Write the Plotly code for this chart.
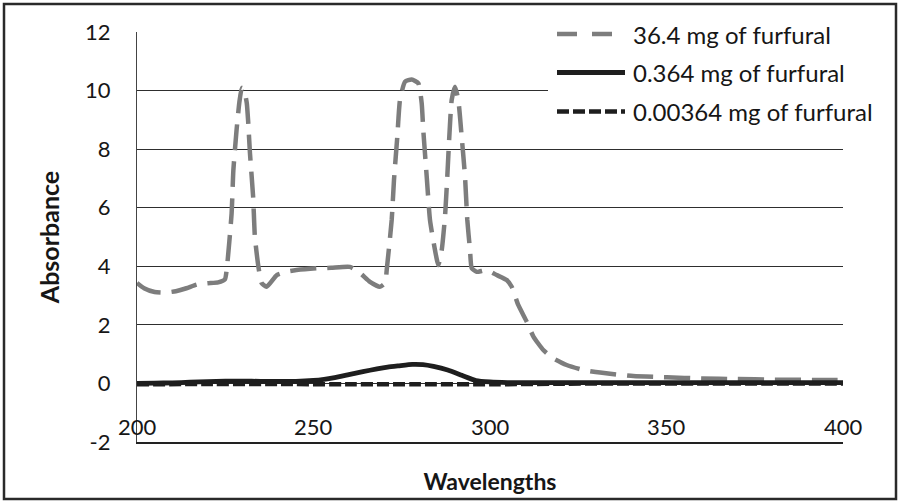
import plotly.graph_objects as go

# Absorbance spectra of furfural at three amounts
series_names = ["36.4 mg of furfural", "0.364 mg of furfural", "0.00364 mg of furfural"]

wl_36 = [200, 202, 205, 208, 211, 214, 217, 220, 223, 224.9, 225.4, 226.8, 227.3, 228.2, 229.0,
         229.7, 230.4, 231.1, 231.5, 232.0, 232.9, 233.4, 234.4, 235.3, 236.7, 239.6, 242.5, 245.2,
         250.9, 255, 260.3, 263.2, 266.0, 268.8, 270.3, 270.74, 272.15, 272.8, 273.74, 274.5,
         275.92, 277.82, 279.69, 280.65, 281.1, 282.07, 283.0, 284.42, 285.36, 286.32, 287.25,
         287.9, 288.47, 289.15, 290.09, 291.02, 291.98, 292.92, 293.57, 294.34, 294.82, 296.23,
         299.07, 301.9, 304.73, 306.15, 308.0, 310.4, 312.3, 315.1, 317.9, 321.7, 326.4, 331.2,
         340.6, 350.1, 360, 370, 380, 390, 400]
abs_36 = [3.43, 3.25, 3.12, 3.10, 3.15, 3.25, 3.38, 3.42, 3.45, 3.55, 3.87, 5.8, 7.28, 8.65, 9.6,
          10.09, 10.0, 9.57, 8.93, 7.86, 6.37, 5.0, 3.98, 3.43, 3.3, 3.7, 3.82, 3.87,
          3.93, 3.95, 3.98, 3.77, 3.47, 3.3, 3.43, 3.87, 5.58, 6.94, 8.42, 9.68,
          10.3, 10.38, 10.25, 9.57, 8.65, 7.06, 5.58, 4.55, 4.04, 4.55, 5.69,
          7.06, 8.42, 9.68, 10.13, 9.68, 8.42, 7.06, 5.58, 4.55, 3.94, 3.81,
          3.87, 3.7, 3.53, 3.3, 2.68, 2.11, 1.6, 1.14, 0.86, 0.63, 0.46, 0.37,
          0.25, 0.21, 0.17, 0.15, 0.13, 0.12, 0.12]

wl_0364 = [200, 205, 210, 215, 220, 225, 230, 235, 240, 245, 250, 253, 256, 260, 264, 268, 271,
           274, 278, 281, 284, 288, 292, 296, 300, 305, 310, 320, 340, 360, 380, 400]
abs_0364 = [0.0, 0.01, 0.02, 0.04, 0.06, 0.08, 0.08, 0.07, 0.07, 0.07, 0.1, 0.14, 0.2, 0.3, 0.4,
            0.5, 0.56, 0.6, 0.65, 0.64, 0.58, 0.46, 0.28, 0.1, 0.05, 0.03, 0.03, 0.03, 0.03, 0.03,
            0.03, 0.03]

wl_000364 = [200, 220, 240, 260, 280, 300, 320, 340, 360, 380, 400]
abs_000364 = [-0.03, -0.02, -0.02, -0.03, -0.03, -0.03, -0.01, 0.0, 0.0, 0.0, 0.0]

x_ticks = [200, 250, 300, 350, 400]
y_ticks = [-2, 0, 2, 4, 6, 8, 10, 12]
y_ticktext = ["-2", "0", "2", "4", "6", "8", "10", "12"]

assert len(wl_36) == len(abs_36)
assert len(wl_0364) == len(abs_0364)

FONT = "Lato"
INK = "#161616"
GREY = "#7d7d7d"

styles = [
    dict(color=GREY, width=4.5, dash="26px,11px"),
    dict(color="#1e1e1e", width=4.8, dash="solid"),
    dict(color="#1e1e1e", width=4.5, dash="12px,4px"),
]

fig = go.Figure()
for name, xs, ys, st in zip(series_names,
                            [wl_36, wl_0364, wl_000364],
                            [abs_36, abs_0364, abs_000364],
                            styles):
    fig.add_trace(go.Scatter(x=xs, y=ys, mode="lines", name=name,
                             line=dict(shape="spline", smoothing=0.5, **st),
                             showlegend=False))

# plot-area geometry in pixels, used to place the legend box
L, R, T, B = 137, 843, 32, 442
W, H = 899, 502

def px_x(p):
    return (p - L) / (R - L)

def px_y(p):
    return (B - p) / (B - T)

shapes = []
# outer chart border
shapes.append(dict(type="rect", xref="paper", yref="paper",
                   x0=px_x(4), x1=px_x(896), y0=px_y(499), y1=px_y(4),
                   line=dict(color="#2a2a2a", width=2.5), layer="below"))
# white legend box over the top gridlines
shapes.append(dict(type="rect", xref="paper", yref="paper",
                   x0=px_x(548), x1=px_x(890), y0=px_y(132), y1=px_y(14),
                   fillcolor="white", line=dict(width=0), layer="above"))

annotations = []
legend_rows = [34, 72.5, 111.5]
for name, st, ry in zip(series_names, styles, legend_rows):
    shapes.append(dict(type="line", xref="paper", yref="paper",
                       x0=px_x(557), x1=px_x(625), y0=px_y(ry), y1=px_y(ry),
                       line=dict(color=st["color"], width=st["width"],
                                 dash="20px,15px" if st["dash"] == "26px,11px" else st["dash"]),
                       layer="above"))
    annotations.append(dict(xref="paper", yref="paper", x=px_x(631), y=px_y(ry),
                            xanchor="left", yanchor="middle", showarrow=False,
                            text=name, font=dict(family=FONT, size=24, color=INK)))

# wavelength labels sit just above the axis line
for v in x_ticks:
    annotations.append(dict(xref="x", yref="y", x=v, y=-1.47, xanchor="center",
                            yanchor="middle", showarrow=False, text=str(v),
                            font=dict(family=FONT, size=22, color=INK)))

fig.update_layout(
    width=W, height=H,
    margin=dict(l=L, r=W - R, t=T, b=H - B),
    paper_bgcolor="white", plot_bgcolor="white",
    font=dict(family=FONT, color=INK),
    shapes=shapes, annotations=annotations,
    xaxis=dict(range=[200, 400], showticklabels=False,
               showgrid=False, zeroline=False, showline=True, linecolor="#222", linewidth=1.5,
               ticks="",
               title=dict(text="<b>Wavelengths</b>", font=dict(family=FONT, size=23, color=INK),
                          standoff=31)),
    yaxis=dict(range=[-2, 12], tickvals=y_ticks, ticktext=y_ticktext,
               showgrid=True, gridcolor="#2e2e2e", gridwidth=1.3,
               zeroline=False, showline=True, linecolor="#444", linewidth=1.2,
               ticks="", ticklabelstandoff=21, tickfont=dict(family=FONT, size=22, color=INK),
               title=dict(text="<b>Absorbance</b>", font=dict(family=FONT, size=25, color=INK),
                          standoff=18)),
)

fig.write_html("out.html")
